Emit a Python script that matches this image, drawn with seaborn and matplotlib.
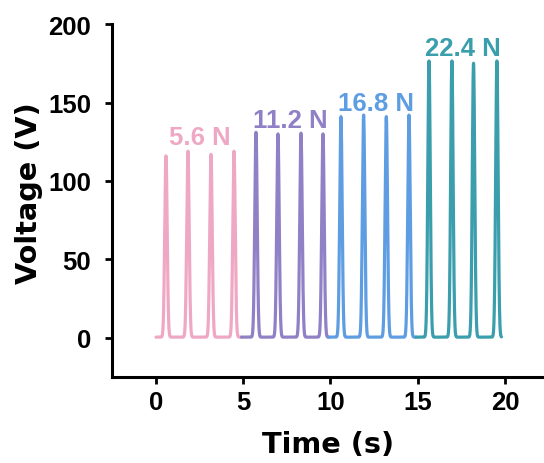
import numpy as np
import pandas as pd
import matplotlib
matplotlib.use("Agg")
import matplotlib.pyplot as plt
import seaborn as sns

# Applied forces and their pulse trains (peak time in s, peak voltage in V)
forces = ["5.6 N", "11.2 N", "16.8 N", "22.4 N"]
segment_start = [0.0, 4.9, 9.9, 14.9]
segment_end = [4.9, 9.9, 14.9, 19.8]
peak_times = [
    [0.57, 1.83, 3.15, 4.47],
    [5.73, 6.99, 8.31, 9.57],
    [10.6, 11.9, 13.2, 14.5],
    [15.65, 16.96, 18.2, 19.54],
]
peak_volts = [
    [116, 119, 117, 119],
    [131, 130, 130.5, 130],
    [141, 142, 141, 142],
    [176.5, 176.5, 175, 176.5],
]
baseline = 0.5
colors = ["#EFA8C4", "#9080C6", "#5E9DE2", "#3A9EAD"]
label_x = [2.5, 7.7, 12.6, 17.6]
label_y = [123.5, 134.5, 145.0, 180.5]

# Build each voltage trace from its peak list
frames = []
for name, t0, t1, pts, pvs in zip(forces, segment_start, segment_end, peak_times, peak_volts):
    t = np.linspace(t0, t1, 2500)
    v = np.full_like(t, baseline)
    for tp, vp in zip(pts, pvs):
        v += (vp - baseline) * np.exp(-0.5 * ((t - tp) / 0.07) ** 2)
    frames.append(pd.DataFrame({"Time": t, "Voltage": v, "Force": name}))
data = pd.concat(frames, ignore_index=True)

sns.set_style("ticks")
plt.rcParams["font.family"] = ["Liberation Sans", "DejaVu Sans"]
plt.rcParams["font.weight"] = "bold"

fig = plt.figure(figsize=(5.44, 4.64), dpi=100)
ax = fig.add_axes([0.206, 0.185, 0.794, 0.761])

sns.lineplot(data=data, x="Time", y="Voltage", hue="Force", palette=colors,
             linewidth=2.3, legend=False, ax=ax, estimator=None, sort=False)

for name, x, y, c in zip(forces, label_x, label_y, colors):
    ax.text(x, y, name, color=c, fontsize=18.5, fontweight="bold",
            ha="center", va="baseline")

ax.set_xlim(-2.52, 22.24)
ax.set_ylim(-25, 200)
ax.set_xticks([0, 5, 10, 15, 20])
ax.set_yticks([0, 50, 100, 150, 200])
label_font = dict(family="DejaVu Sans", size=20.7, weight="bold", color="black")
ax.set_xlabel("Time (s)", fontdict=label_font)
ax.set_ylabel("Voltage (V)", fontdict=label_font)
ax.xaxis.set_label_coords(0.5, -0.149)
ax.yaxis.set_label_coords(-0.159, 0.525)

for side in ["top", "right"]:
    ax.spines[side].set_visible(False)
for side in ["left", "bottom"]:
    ax.spines[side].set_linewidth(2.2)
    ax.spines[side].set_color("black")
ax.tick_params(axis="both", width=2, length=5, labelsize=18.5, colors="black")
ax.tick_params(axis="x", pad=4)
ax.tick_params(axis="y", pad=10)
for lbl in ax.get_xticklabels() + ax.get_yticklabels():
    lbl.set_fontweight("bold")

fig.savefig("out.png", dpi=100)
